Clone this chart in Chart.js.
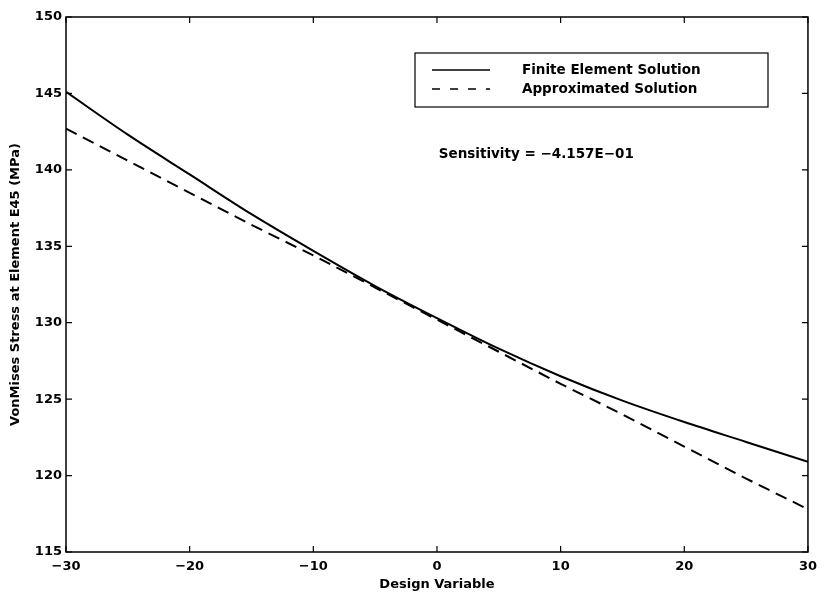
<!DOCTYPE html>
<html>
<head>
<meta charset="utf-8">
<script src="https://cdn.jsdelivr.net/npm/chart.js@4.4.1/dist/chart.umd.min.js"></script>
<style>
html,body{margin:0;padding:0;background:#fff;}
#wrap{width:824px;height:595px;position:relative;}
</style>
</head>
<body>
<div id="wrap"><canvas id="c" width="824" height="595"></canvas></div>
<script>
// ---- data ----
const designVariable = [-30, -25, -20, -15, -10, -5, 0, 5, 10, 15, 20, 25, 30];
const feSolution     = [145.1, 142.3, 139.7, 137.1, 134.7, 132.4, 130.3, 128.3, 126.5, 124.9, 123.5, 122.2, 120.9];
const approxSolution = [142.7, 140.6, 138.5, 136.4, 134.4, 132.3, 130.2, 128.1, 126.0, 124.0, 121.9, 119.8, 117.8];
const xTickValues = [-30, -20, -10, 0, 10, 20, 30];
const yTickValues = [115, 120, 125, 130, 135, 140, 145, 150];
const seriesNames = ['Finite Element Solution', 'Approximated Solution'];
const xAxisTitle = 'Design Variable';
const yAxisTitle = 'VonMises Stress at Element E45 (MPa)';
const annotationText = 'Sensitivity = \u22124.157E\u221201';

const FONT = 'DejaVu Sans';
const fmt = v => String(v).replace('-', '\u2212');

const toPoints = ys => designVariable.map((x, i) => ({x: x, y: ys[i]}));

const framePlugin = {
  id: 'frame',
  afterDatasetsDraw(chart) {
    const {ctx, chartArea: a, scales} = chart;
    ctx.save();
    ctx.strokeStyle = '#000';
    ctx.lineWidth = 1.5;
    ctx.strokeRect(a.left, a.top, a.right - a.left, a.bottom - a.top);
    const tl = 6;
    ctx.lineWidth = 1.2;
    ctx.beginPath();
    scales.x.ticks.forEach(t => {
      const px = scales.x.getPixelForValue(t.value);
      ctx.moveTo(px, a.bottom); ctx.lineTo(px, a.bottom - tl);
      ctx.moveTo(px, a.top); ctx.lineTo(px, a.top + tl);
    });
    scales.y.ticks.forEach(t => {
      const py = scales.y.getPixelForValue(t.value);
      ctx.moveTo(a.left, py); ctx.lineTo(a.left + tl, py);
      ctx.moveTo(a.right, py); ctx.lineTo(a.right - tl, py);
    });
    ctx.stroke();

    // legend box
    const bx = a.left + 349, by = a.top + 36, bw = 353, bh = 54;
    ctx.fillStyle = '#fff';
    ctx.fillRect(bx, by, bw, bh);
    ctx.lineWidth = 1.2;
    ctx.strokeRect(bx, by, bw, bh);
    ctx.font = 'bold 13.5px "' + FONT + '"';
    ctx.fillStyle = '#000';
    ctx.textBaseline = 'middle';
    ctx.textAlign = 'left';
    chart.data.datasets.forEach((ds, i) => {
      const ly = by + 17 + i * 19;
      ctx.save();
      ctx.lineWidth = 1.6;
      ctx.setLineDash(ds.borderDash && ds.borderDash.length ? [8, 10] : []);
      ctx.beginPath();
      ctx.moveTo(bx + 17, ly);
      ctx.lineTo(bx + 75, ly);
      ctx.stroke();
      ctx.restore();
      ctx.fillText(ds.label, bx + 107, ly);
    });

    // annotation
    const ax = scales.x.getPixelForValue(0.15);
    const ay = scales.y.getPixelForValue(141);
    ctx.fillText(annotationText, ax, ay);
    ctx.restore();
  }
};

new Chart(document.getElementById('c'), {
  type: 'line',
  data: {
    datasets: [
      {
        label: seriesNames[0],
        data: toPoints(feSolution),
        borderColor: '#000',
        borderWidth: 2,
        pointRadius: 0,
        fill: false,
        cubicInterpolationMode: 'monotone'
      },
      {
        label: seriesNames[1],
        data: toPoints(approxSolution),
        borderColor: '#000',
        borderWidth: 2,
        borderDash: [12, 7],
        pointRadius: 0,
        fill: false,
        tension: 0
      }
    ]
  },
  options: {
    responsive: false,
    devicePixelRatio: 1,
    animation: false,
    layout: {padding: {top: 17, right: 14, left: 0, bottom: 0}},
    plugins: {legend: {display: false}, tooltip: {enabled: false}},
    scales: {
      x: {
        type: 'linear',
        position: 'bottom',
        min: -30, max: 30,
        afterBuildTicks: s => { s.ticks = xTickValues.map(v => ({value: v})); },
        afterFit: s => { s.height = 43; },
        grid: {display: false, drawTicks: false},
        border: {display: false},
        ticks: {color: '#000', padding: 7, font: {family: FONT, size: 13, weight: 'bold'}, callback: v => fmt(v), maxRotation: 0},
        title: {display: true, text: xAxisTitle, color: '#000', font: {family: FONT, size: 13, weight: 'bold'}, padding: {top: 0, bottom: 3}}
      },
      y: {
        type: 'linear',
        position: 'left',
        min: 115, max: 150,
        afterBuildTicks: s => { s.ticks = yTickValues.map(v => ({value: v})); },
        afterFit: s => { s.width = 66; },
        grid: {display: false, drawTicks: false},
        border: {display: false},
        ticks: {color: '#000', padding: 4, font: {family: FONT, size: 13, weight: 'bold'}, callback: v => fmt(v)},
        title: {display: true, text: yAxisTitle, color: '#000', font: {family: FONT, size: 13, weight: 'bold'}, padding: {top: 8, bottom: 0}}
      }
    }
  },
  plugins: [framePlugin]
});
</script>
</body>
</html>
